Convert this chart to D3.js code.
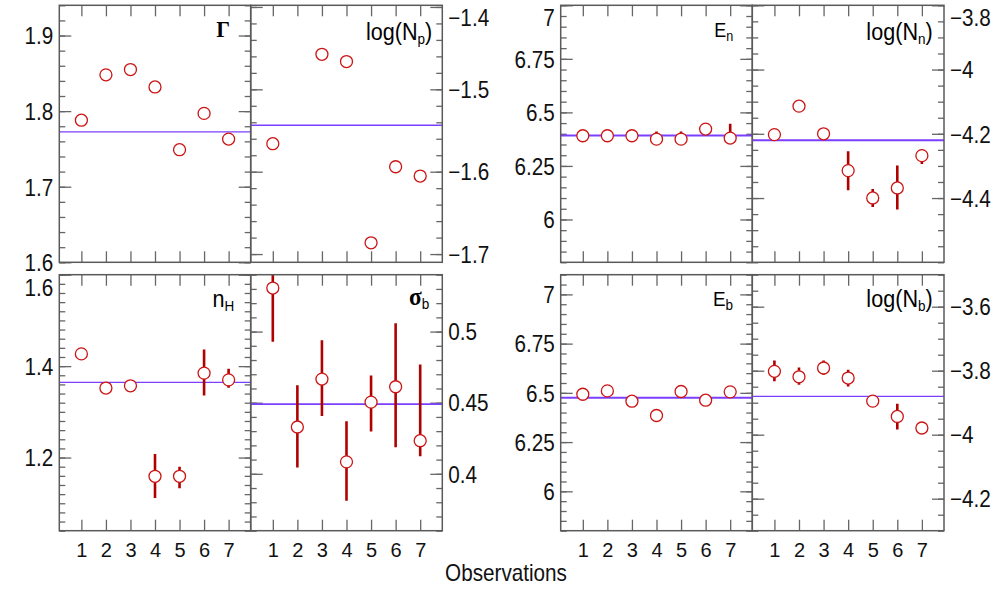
<!DOCTYPE html>
<html><head><meta charset="utf-8">
<script src="https://cdn.jsdelivr.net/npm/d3@7"></script>
<style>body{margin:0;background:#fff}svg{display:block}</style>
</head><body><svg id="c" width="1005" height="592"></svg>
<script>
// ---------- data ----------
const observations = [1, 2, 3, 4, 5, 6, 7];

const gammaValues = [1.788, 1.848, 1.855, 1.832, 1.749, 1.797, 1.763];
const gammaMean = 1.7726;
const gammaTicks = [1.6, 1.7, 1.8, 1.9];

const logNpValues = [-1.566, null, -1.4575, -1.4663, -1.6863, -1.594, -1.6053];
const logNpMean = -1.5437;
const logNpTicks = [-1.7, -1.6, -1.5, -1.4];

const EnValues = [6.391, 6.391, 6.391, 6.375, 6.375, 6.422, 6.380];
const EnLow  = [null, null, null, 6.35, 6.35, null, 6.355];
const EnHigh = [null, null, null, 6.411, 6.411, null, 6.447];
const EnMean = 6.392;
const EnTicks = [6, 6.25, 6.5, 6.75, 7];

const logNnValues = [-4.2025, -4.114, -4.200, -4.3146, -4.3997, -4.3685, -4.268];
const logNnLow  = [null, null, null, -4.376, -4.428, -4.436, -4.294];
const logNnHigh = [null, null, null, -4.254, -4.372, -4.299, -4.249];
const logNnMean = -4.220;
const logNnTicks = [-4.4, -4.2, -4, -3.8];

const nHValues = [1.4268, 1.352, 1.357, 1.159, 1.159, 1.3847, 1.370];
const nHLow  = [null, null, null, 1.1118, 1.133, 1.336, 1.3527];
const nHHigh = [null, null, null, 1.2077, 1.180, 1.4364, 1.394];
const nHMean = 1.3644;
const nHTicks = [1.2, 1.4, 1.6];

const sigmaValues = [0.5306, 0.4329, 0.4666, 0.4084, 0.4504, 0.4612, 0.4233];
const sigmaLow  = [0.4928, 0.4044, 0.4406, 0.381, 0.4297, 0.4187, 0.4123];
const sigmaHigh = [0.5684, 0.4623, 0.4939, 0.4369, 0.4691, 0.5058, 0.4769];
const sigmaMean = 0.449;
const sigmaTicks = [0.4, 0.45, 0.5];

const EbValues = [6.493, 6.510, 6.4576, 6.385, 6.507, 6.4627, 6.505];
const EbMean = 6.4748;
const EbTicks = [6, 6.25, 6.5, 6.75, 7];

const logNbValues = [-3.802, -3.819, -3.7915, -3.823, -3.895, -3.943, -3.979];
const logNbLow  = [-3.833, -3.844, -3.8125, -3.849, null, -3.984, null];
const logNbHigh = [-3.768, -3.79, -3.768, -3.797, null, -3.903, null];
const logNbMean = -3.880;
const logNbTicks = [-4.2, -4, -3.8, -3.6];

const xLabel = "Observations";

// ---------- layout ----------
const cols = [[59.3, 250.7], [250.7, 442.3], [560.7, 752.3], [752.3, 944]];
const rows = [[5.3, 262.3], [274.7, 530.7]];
const xDomain = [0.1, 7.9];
const SANS = "'Liberation Sans', Arial, sans-serif";
const SERIF = "'Liberation Serif', serif";
const SX = 0.9; // horizontal condensing of sans text
const circleColor = "#cc1414", errColor = "#b00000", meanColor = "#7b3fff", axisColor = "#666";

const panels = [
  {key:"g", col:0, row:0, domain:[1.6,1.94], major:gammaTicks, minorStep:0.02, side:"left",
   values:gammaValues, mean:gammaMean, title:[{t:"Γ", serif:true, size:24}], gap:20.7, base:31.4, lw:1.4},
  {key:"np", col:1, row:0, domain:[-1.71,-1.398], major:logNpTicks, minorStep:0.02, side:"right",
   values:logNpValues, mean:logNpMean, title:[{t:"log(N", size:24},{t:"p", sub:true},{t:")", size:24, up:true}], gap:10, base:34.7, lw:1.4},
  {key:"en", col:2, row:0, domain:[5.8,7.0], major:EnTicks, minorStep:0.05, side:"left",
   values:EnValues, lo:EnLow, hi:EnHigh, mean:EnMean, title:[{t:"E", size:20},{t:"n", sub:true, size:14}], gap:19, base:32, lw:2},
  {key:"nn", col:3, row:0, domain:[-4.6,-3.8], major:logNnTicks, minorStep:0.05, side:"right",
   values:logNnValues, lo:logNnLow, hi:logNnHigh, mean:logNnMean, title:[{t:"log(N", size:24},{t:"n", sub:true},{t:")", size:24, up:true}], gap:11.3, base:34.7, lw:2},
  {key:"nh", col:0, row:1, domain:[1.04,1.6], major:nHTicks, minorStep:0.02, side:"left",
   values:nHValues, lo:nHLow, hi:nHHigh, mean:nHMean, title:[{t:"n", size:24},{t:"H", sub:true}], gap:16.4, base:32, lw:1.2},
  {key:"sb", col:1, row:1, domain:[0.36,0.54], major:sigmaTicks, minorStep:0.01, side:"right",
   values:sigmaValues, lo:sigmaLow, hi:sigmaHigh, mean:sigmaMean, title:[{t:"σ", serif:true, size:26},{t:"b", sub:true}], gap:13, base:30.5, lw:1.6},
  {key:"eb", col:2, row:1, domain:[5.8,7.1], major:EbTicks, minorStep:0.05, side:"left",
   values:EbValues, mean:EbMean, title:[{t:"E", size:21},{t:"b", sub:true}], gap:19.3, base:31.5, lw:2},
  {key:"nb", col:3, row:1, domain:[-4.3,-3.5], major:logNbTicks, minorStep:0.05, side:"right",
   values:logNbValues, lo:logNbLow, hi:logNbHigh, mean:logNbMean, title:[{t:"log(N", size:24},{t:"b", sub:true},{t:")", size:24, up:true}], gap:11.3, base:32, lw:1.3}
];

const svg = d3.select("#c");
const fmt = d3.format("~g");
const yFont = 23, xFont = 20;

function styleAxis(sel, w) {
  sel.select(".domain").remove();
  sel.selectAll(".tick line").attr("stroke", axisColor).attr("stroke-width", w || 1.3);
  sel.selectAll(".tick text").attr("font-family", SANS).attr("fill", "#111");
}

panels.forEach(p => {
  const [x0, x1] = cols[p.col], [y0, y1] = rows[p.row];
  const x = d3.scaleLinear().domain(xDomain).range([x0, x1]);
  const y = d3.scaleLinear().domain(p.domain).range([y1, y0]);
  const g = svg.append("g");
  const clipId = "clip-" + p.key;
  svg.append("clipPath").attr("id", clipId).append("rect")
    .attr("x", x0).attr("y", y0).attr("width", x1 - x0).attr("height", y1 - y0);

  const st = p.minorStep;
  const minor = d3.range(Math.ceil(p.domain[0] / st - 1e-6), Math.floor(p.domain[1] / st + 1e-6) + 1)
    .map(i => +(i * st).toFixed(4));

  // minor y ticks (both sides)
  g.append("g").attr("transform", `translate(${x0},0)`)
    .call(d3.axisLeft(y).tickValues(minor).tickSize(-6).tickFormat("")).call(styleAxis);
  g.append("g").attr("transform", `translate(${x1},0)`)
    .call(d3.axisRight(y).tickValues(minor).tickSize(-6).tickFormat("")).call(styleAxis);

  // major y ticks
  const la = g.append("g").attr("transform", `translate(${x0},0)`)
    .call(d3.axisLeft(y).tickValues(p.major).tickSize(-12).tickPadding(6)
      .tickFormat(p.side === "left" ? fmt : "")).call(styleAxis);
  const ra = g.append("g").attr("transform", `translate(${x1},0)`)
    .call(d3.axisRight(y).tickValues(p.major).tickSize(-12).tickPadding(6)
      .tickFormat(p.side === "right" ? fmt : "")).call(styleAxis);
  [[la, -6], [ra, 6]].forEach(([a, off]) => {
    a.selectAll(".tick text").attr("font-size", yFont).attr("dy", "0.36em")
      .attr("x", off / SX).attr("transform", `scale(${SX},1)`);
    a.selectAll(".tick").each(function (d) {
      const ty = y(d), minC = y0 + 4 + 0.36 * yFont;
      if (ty < minC) d3.select(this).select("text").attr("y", minC - ty);
    });
  });

  // x ticks top & bottom
  g.append("g").attr("transform", `translate(0,${y0})`)
    .call(d3.axisTop(x).tickValues(observations).tickSize(-11).tickFormat("")).call(styleAxis);
  const bx = g.append("g").attr("transform", `translate(0,${y1})`)
    .call(d3.axisBottom(x).tickValues(observations).tickSize(-11)
      .tickFormat(p.row === 1 ? d3.format("d") : "")).call(styleAxis);
  bx.selectAll(".tick text").attr("font-size", xFont).attr("dy", null).attr("y", 26);

  // mean line
  g.append("line").attr("x1", x0).attr("x2", x1)
    .attr("y1", y(p.mean)).attr("y2", y(p.mean))
    .attr("stroke", meanColor).attr("stroke-width", p.lw);

  // error bars
  if (p.lo) {
    g.append("g").attr("clip-path", `url(#${clipId})`).selectAll("line")
      .data(observations.map((o, i) => ({o, lo: p.lo[i], hi: p.hi[i]})).filter(d => d.lo != null))
      .join("line")
      .attr("x1", d => x(d.o)).attr("x2", d => x(d.o))
      .attr("y1", d => y(d.lo)).attr("y2", d => y(d.hi))
      .attr("stroke", errColor).attr("stroke-width", 2.6);
  }

  // points
  g.append("g").selectAll("circle")
    .data(observations.map((o, i) => ({o, v: p.values[i]})).filter(d => d.v != null))
    .join("circle")
    .attr("cx", d => x(d.o)).attr("cy", d => y(d.v)).attr("r", 6)
    .attr("fill", "#fff").attr("stroke", circleColor).attr("stroke-width", 1.3);

  // frame
  g.append("rect").attr("x", x0).attr("y", y0).attr("width", x1 - x0).attr("height", y1 - y0)
    .attr("fill", "none").attr("stroke", "#5a5a5a").attr("stroke-width", 1.5);

  // title
  const tg = g.append("g").attr("transform", `translate(${x1 - p.gap},${y0 + p.base}) scale(${SX},1)`);
  const t = tg.append("text").attr("x", 0).attr("y", 0)
    .attr("text-anchor", "end").attr("fill", "#000");
  p.title.forEach(part => {
    const ts = t.append("tspan").text(part.t);
    if (part.serif) ts.attr("font-family", SERIF).attr("font-weight", "bold").attr("font-size", part.size);
    else ts.attr("font-family", SANS).attr("font-size", part.sub ? (part.size || 15) : part.size);
    if (part.sub) ts.attr("dy", 4);
    if (part.up) ts.attr("dy", -4);
  });
});

svg.append("g").attr("transform", `translate(506,581) scale(${SX},1)`)
  .append("text").attr("x", 0).attr("y", 0).attr("text-anchor", "middle")
  .attr("font-family", SANS).attr("font-size", 23).attr("fill", "#111").text(xLabel);
</script>
</body></html>
